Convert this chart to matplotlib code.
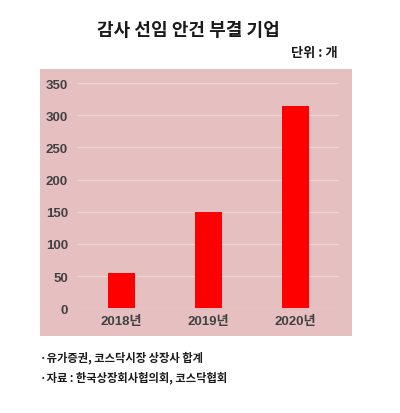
import matplotlib.pyplot as plt
from matplotlib.patches import Rectangle

plt.rcParams['font.family'] = ['Noto Sans CJK KR', 'DejaVu Sans']

years = ['2018년', '2019년', '2020년']
counts = [55, 149, 315]
yticks = [0, 50, 100, 150, 200, 250, 300, 350]

fig = plt.figure(figsize=(4.0, 4.14), dpi=100)
fig.patch.set_facecolor('white')

# pink panel behind the chart
panel = Rectangle((40 / 400, 1 - 337 / 414), 312 / 400, 267 / 414,
                  transform=fig.transFigure, facecolor='#e6bfc0',
                  edgecolor='none', zorder=-5)
fig.patches.append(panel)

ax = fig.add_axes([0.1945, 0.2529, 0.6525, 0.5442])
ax.set_zorder(2)
ax.set_facecolor('none')
ax.bar(range(len(years)), counts, width=0.31, color='#ff0000', zorder=3)

ax.set_xlim(-0.5, 2.5)
ax.set_ylim(0, 350)
ax.set_yticks(yticks)
ax.set_xticks(range(len(years)))
ax.set_xticklabels(years)
ax.yaxis.grid(True, color='#eed3d3', linewidth=1.0, zorder=1)
ax.set_axisbelow(True)
ax.tick_params(length=0, colors='#424242', labelsize=9.5)
ax.tick_params(axis='x', pad=5)
ax.tick_params(axis='y', pad=7)
for lab in ax.get_xticklabels() + ax.get_yticklabels():
    lab.set_fontweight('bold')
    lab.set_family(['Liberation Sans', 'Noto Sans CJK KR'])
for s in ax.spines.values():
    s.set_visible(False)

fig.text(0.472, 1 - 30 / 414, '감사 선임 안건 부결 기업', ha='center', va='center',
         fontsize=13, fontweight='bold', color='#1a1a1a')
fig.text(0.843, 1 - 53 / 414, '단위 : 개', ha='right', va='center',
         fontsize=9.5, fontweight='bold', color='#1a1a1a')
fig.text(0.1, 1 - 358 / 414, '·유가증권, 코스닥시장 상장사 합계', ha='left', va='center',
         fontsize=8.1, fontweight='bold', color='#1a1a1a')
fig.text(0.1, 1 - 378 / 414, '·자료 : 한국상장회사협의회, 코스닥협회', ha='left', va='center',
         fontsize=8.1, fontweight='bold', color='#1a1a1a')

plt.savefig('out.png', dpi=100, facecolor='white')
